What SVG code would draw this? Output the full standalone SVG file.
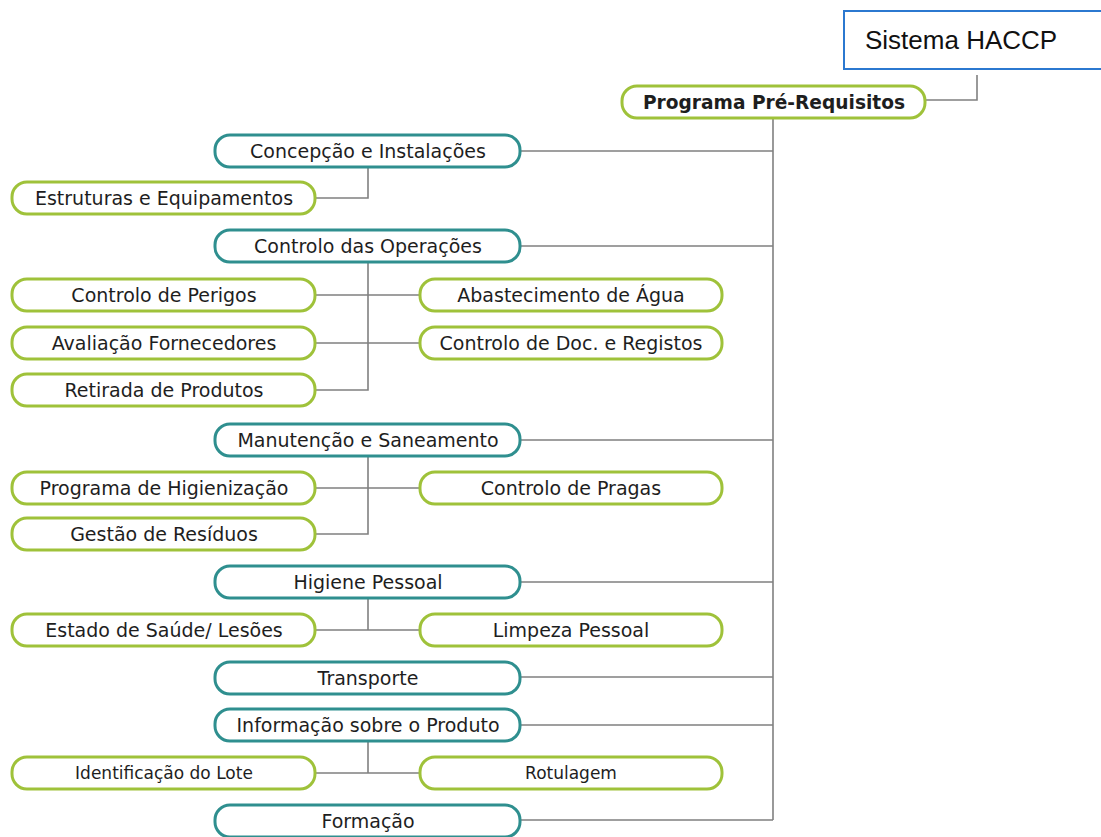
<svg xmlns="http://www.w3.org/2000/svg" width="1101" height="837" viewBox="0 0 1101 837">
<defs>
<style>
.bg{fill:#ffffff}
.n1 rect{fill:#ffffff;stroke:#2f8f8f;stroke-width:3}
.n2 rect{fill:#ffffff;stroke:#9fc23a;stroke-width:3}
text{font-family:"DejaVu Sans",Verdana,sans-serif;font-size:19px;fill:#1e1e1e;text-anchor:middle;dominant-baseline:central}
.bold{font-weight:bold;font-size:18.6px}
.sys rect{fill:#ffffff;stroke:#2b78d0;stroke-width:2}
.sys text{font-family:"Liberation Sans",Arial,sans-serif;font-size:26px;fill:#111;text-anchor:start}
.conn path{fill:none;stroke:#808080;stroke-width:1.6}
</style>
</defs>
<rect class="bg" x="0" y="0" width="1101" height="837"/>
<g class="conn">
<path d="M977,75 V100 H925"/>
<path d="M773,118 V820"/>
<path d="M520,151 H773 M520,246 H773 M520,440 H773 M520,582 H773 M520,677 H773 M520,725 H773 M520,820 H773"/>
<path d="M368,167 V198 H315"/>
<path d="M368,262 V390 H315 M315,295 H420 M315,343 H420"/>
<path d="M368,456 V534 H315 M315,488 H420"/>
<path d="M368,598 V630 M315,630 H420"/>
<path d="M368,741 V773 M315,773 H420"/>
</g>
<g id="sistema" class="sys"><rect x="844" y="11" width="260" height="58"/><text x="865" y="40">Sistema HACCP</text></g>
<g id="programa" class="n2"><rect x="622" y="86" width="303" height="32" rx="15"/><text class="bold" x="774" y="102">Programa Pré-Requisitos</text></g>
<g id="concepcao" class="n1"><rect x="215" y="135" width="305" height="32" rx="15"/><text x="368" y="151">Concepção e Instalações</text></g>
<g id="estruturas" class="n2"><rect x="12" y="182" width="303" height="32" rx="15"/><text x="164" y="198">Estruturas e Equipamentos</text></g>
<g id="operacoes" class="n1"><rect x="215" y="230" width="305" height="32" rx="15"/><text x="368" y="246">Controlo das Operações</text></g>
<g id="perigos" class="n2"><rect x="12" y="279" width="303" height="32" rx="15"/><text x="164" y="295">Controlo de Perigos</text></g>
<g id="agua" class="n2"><rect x="420" y="279" width="302" height="32" rx="15"/><text x="571" y="295">Abastecimento de Água</text></g>
<g id="fornecedores" class="n2"><rect x="12" y="327" width="303" height="32" rx="15"/><text x="164" y="343">Avaliação Fornecedores</text></g>
<g id="documentos" class="n2"><rect x="420" y="327" width="302" height="32" rx="15"/><text x="571" y="343">Controlo de Doc. e Registos</text></g>
<g id="retirada" class="n2"><rect x="12" y="374" width="303" height="32" rx="15"/><text x="164" y="390">Retirada de Produtos</text></g>
<g id="manutencao" class="n1"><rect x="215" y="424" width="305" height="32" rx="15"/><text x="368" y="440">Manutenção e Saneamento</text></g>
<g id="higienizacao" class="n2"><rect x="12" y="472" width="303" height="32" rx="15"/><text x="164" y="488">Programa de Higienização</text></g>
<g id="pragas" class="n2"><rect x="420" y="472" width="302" height="32" rx="15"/><text x="571" y="488">Controlo de Pragas</text></g>
<g id="residuos" class="n2"><rect x="12" y="518" width="303" height="32" rx="15"/><text x="164" y="534">Gestão de Resíduos</text></g>
<g id="higiene" class="n1"><rect x="215" y="566" width="305" height="32" rx="15"/><text x="368" y="582">Higiene Pessoal</text></g>
<g id="saude" class="n2"><rect x="12" y="614" width="303" height="32" rx="15"/><text x="164" y="630">Estado de Saúde/ Lesões</text></g>
<g id="limpeza" class="n2"><rect x="420" y="614" width="302" height="32" rx="15"/><text x="571" y="630">Limpeza Pessoal</text></g>
<g id="transporte" class="n1"><rect x="215" y="662" width="305" height="32" rx="15"/><text x="368" y="678">Transporte</text></g>
<g id="informacao" class="n1"><rect x="215" y="709" width="305" height="32" rx="15"/><text x="368" y="725">Informação sobre o Produto</text></g>
<g id="lote" class="n2"><rect x="12" y="757" width="303" height="32" rx="15"/><text x="164" y="773" style="font-size:17px">Identificação do Lote</text></g>
<g id="rotulagem" class="n2"><rect x="420" y="757" width="302" height="32" rx="15"/><text x="571" y="773" style="font-size:17px">Rotulagem</text></g>
<g id="formacao" class="n1"><rect x="215" y="805" width="305" height="32" rx="15"/><text x="368" y="821">Formação</text></g>
</svg>
